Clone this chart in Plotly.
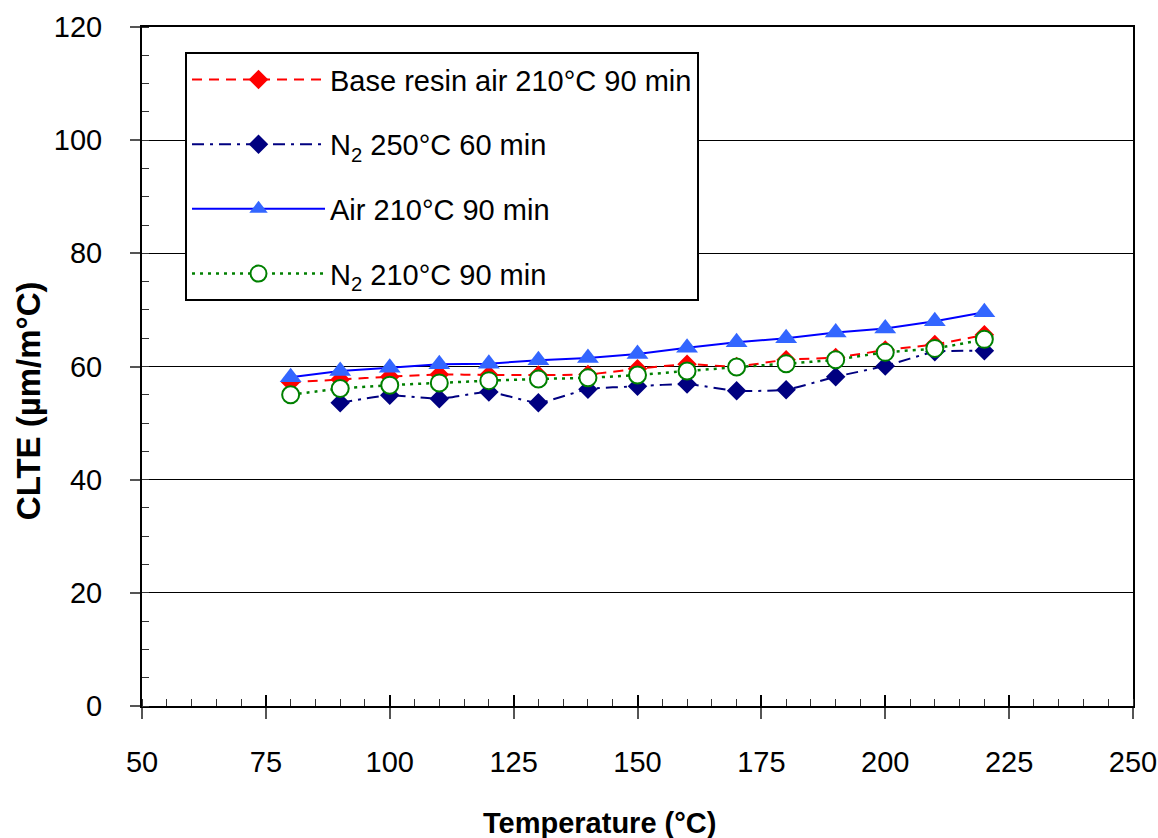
import plotly.graph_objects as go

# ---- data ----
temp = [80, 90, 100, 110, 120, 130, 140, 150, 160, 170, 180, 190, 200, 210, 220]
temp_n2_250 = [90, 100, 110, 120, 130, 140, 150, 160, 170, 180, 190, 200, 210, 220]

base_resin_air = [57.2, 57.7, 58.2, 58.6, 58.5, 58.5, 58.6, 59.6, 60.4, 60.0, 61.2, 61.6, 62.9, 63.9, 65.6]
n2_250_60 = [53.6, 54.9, 54.3, 55.5, 53.6, 56.0, 56.5, 56.9, 55.7, 55.9, 58.2, 60.1, 62.6, 62.8]
air_210_90 = [58.1, 59.2, 59.8, 60.4, 60.5, 61.1, 61.5, 62.2, 63.3, 64.3, 65.0, 66.0, 66.7, 68.0, 69.6]
n2_210_90 = [55.0, 56.1, 56.7, 57.1, 57.5, 57.8, 58.0, 58.5, 59.2, 59.9, 60.5, 61.2, 62.5, 63.2, 64.8]

series_names = [
    "Base resin air 210°C 90 min",
    "N<sub>2</sub> 250°C 60 min",
    "Air 210°C 90 min",
    "N<sub>2</sub> 210°C 90 min",
]

x_ticks = [50, 75, 100, 125, 150, 175, 200, 225, 250]
y_ticks = [0, 20, 40, 60, 80, 100, 120]

FONT = "Liberation Sans, Arial, sans-serif"
FS = 29

fig = go.Figure()

fig.add_trace(go.Scatter(
    x=temp, y=base_resin_air, name=series_names[0], legendgroup="a",
    mode="lines+markers",
    line=dict(color="#FF0000", width=2, dash="10px,7px", shape="spline", smoothing=0.5),
    marker=dict(symbol="diamond", size=15, color="#FF0000"),
))
fig.add_trace(go.Scatter(
    x=temp_n2_250, y=n2_250_60, name=series_names[1], legendgroup="b",
    mode="lines+markers",
    line=dict(color="#000080", width=2, dash="12px,6px,3px,6px", shape="spline", smoothing=0.5),
    marker=dict(symbol="diamond", size=15, color="#000080"),
))
fig.add_trace(go.Scatter(
    x=temp, y=air_210_90, name=series_names[2], legendgroup="c",
    mode="lines+markers",
    line=dict(color="#0000FF", width=2),
    marker=dict(symbol="triangle-up", size=19, color="#3366FF"),
))
fig.add_trace(go.Scatter(
    x=temp, y=n2_210_90, name=series_names[3], legendgroup="d",
    mode="lines+markers",
    line=dict(color="#008000", width=2.5, dash="3px,5px", shape="spline", smoothing=0.5),
    marker=dict(symbol="circle", size=17, color="white", line=dict(color="#008000", width=2)),
))

fig.update_layout(
    width=1158, height=838,
    paper_bgcolor="white", plot_bgcolor="white",
    margin=dict(l=142, r=25, t=27, b=132, pad=0, autoexpand=False),
    font=dict(family=FONT, size=FS, color="black"),
    showlegend=True,
    legend=dict(
        x=0.0434, y=0.963, xanchor="left", yanchor="top",
        bgcolor="white", bordercolor="black", borderwidth=2,
        font=dict(family=FONT, size=FS, color="black"),
        tracegroupgap=24, itemwidth=133,
    ),
    xaxis=dict(
        range=[50, 250], tickmode="array", tickvals=x_ticks,
        ticktext=[str(v) for v in x_ticks], automargin=False,
        showgrid=False, zeroline=False,
        showline=True, linecolor="black", linewidth=2, mirror=True,
        ticks="outside", ticklen=11, tickwidth=1.5, tickcolor="#555555",
        ticklabelstandoff=18,
        minor=dict(dtick=5, ticks="inside", ticklen=7, tickcolor="#333333", tickwidth=1.2, showgrid=False),
        tickfont=dict(size=FS),
    ),
    xaxis2=dict(
        overlaying="x", matches="x", range=[50, 250], tickmode="array", tickvals=x_ticks,
        showticklabels=False, showgrid=False, zeroline=False, showline=False, automargin=False,
        ticks="inside", ticklen=11, tickwidth=1.5, tickcolor="black", anchor="y",
    ),
    yaxis=dict(
        range=[0, 120], tickmode="array", tickvals=y_ticks,
        ticktext=[str(v) for v in y_ticks], automargin=False,
        showgrid=True, gridcolor="black", gridwidth=1,
        zeroline=False,
        showline=True, linecolor="black", linewidth=2, mirror=True,
        ticks="outside", ticklen=10, tickwidth=1.5, tickcolor="#555555",
        ticklabelstandoff=22,
        minor=dict(dtick=5, ticks="inside", ticklen=7, tickcolor="#333333", tickwidth=1.2, showgrid=False),
        tickfont=dict(size=FS),
    ),
    annotations=[
        dict(text="<b>Temperature (°C)</b>", xref="paper", yref="paper",
             x=0.462, y=-0.172, xanchor="center", yanchor="middle",
             showarrow=False, font=dict(family=FONT, size=FS, color="black")),
        dict(text="<b>CLTE (µm/m°C)</b>", xref="paper", yref="paper",
             x=-0.115, y=0.449, xanchor="center", yanchor="middle", textangle=-90,
             showarrow=False, font=dict(family=FONT, size=33, color="black")),
    ],
)

# invisible trace to activate the overlaid tick axis
fig.add_trace(go.Scatter(x=[50], y=[0], xaxis="x2", yaxis="y", mode="markers",
                         marker=dict(opacity=0), showlegend=False, hoverinfo="skip"))

fig.write_html("out.html",
               config={"displayModeBar": False},
               post_script="document.body.style.margin='0';document.body.style.overflow='hidden';")
